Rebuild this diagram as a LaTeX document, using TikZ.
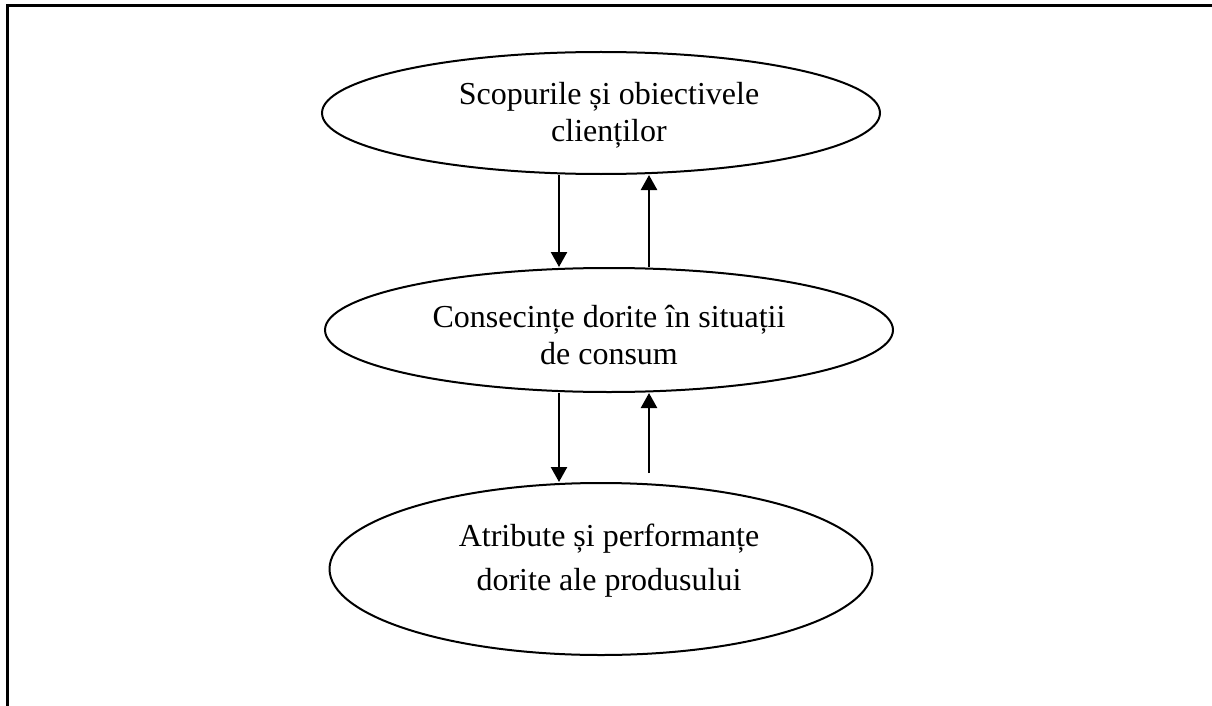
\documentclass[tikz,border=0pt]{standalone}
\usepackage{fontspec}
\setmainfont{Liberation Serif}
\usetikzlibrary{shapes.geometric,arrows.meta}
\begin{document}
\begin{tikzpicture}[x=1pt,y=-1pt,
  oval/.style={draw,ellipse,line width=2pt,inner sep=0pt},
  lbl/.style={align=center,font=\fontsize{32}{37}\selectfont,inner sep=0pt,anchor=base},
  arr/.style={line width=2.4pt,-{Triangle[length=15pt,width=16pt]}}]
\useasboundingbox (0,0) rectangle (1212,706);
\draw[line width=2.5pt] (7.5,706) -- (7.5,5.5) -- (1212,5.5);
\node[oval,minimum width=558pt,minimum height=122pt] (top) at (601,113) {};
\node[oval,minimum width=568pt,minimum height=124pt] (mid) at (609,330) {};
\node[oval,minimum width=543pt,minimum height=172pt] (bot) at (601,569) {};
\node[lbl] (ttop) at (609,142) {Scopurile și obiectivele\\clienților};
\node[lbl] (tmid) at (609,364) {Consecințe dorite în situații\\de consum};
\node[lbl,font=\fontsize{32}{44}\selectfont] (tbot) at (609,590) {Atribute și performanțe\\dorite ale produsului};
\coordinate (dx) at (559,0);
\coordinate (ux) at (649,0);
\coordinate (u2s) at (649,473);
\draw[arr] (dx |- top.south) -- (dx |- mid.north);
\draw[arr] (ux |- mid.north) -- (ux |- top.south);
\draw[arr] (dx |- mid.south) -- (dx |- bot.north);
\draw[arr] (u2s) -- (ux |- mid.south);
\end{tikzpicture}
\end{document}
